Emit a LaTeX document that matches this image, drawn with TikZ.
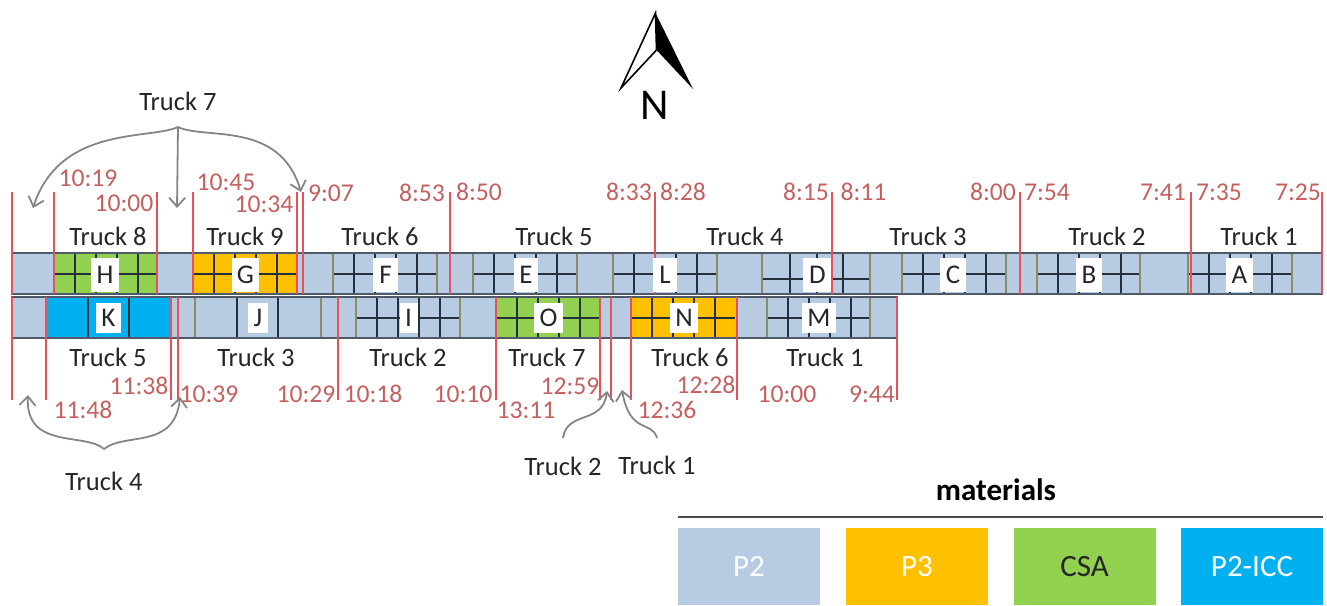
\documentclass[tikz,border=0pt]{standalone}
\usepackage{fontspec}
\setmainfont{Carlito}
\usepackage{xcolor}
\usetikzlibrary{arrows.meta, positioning, calc}
\definecolor{pblue}{HTML}{B7CBE3}
\definecolor{pyellow}{HTML}{FFC000}
\definecolor{pgreen}{HTML}{92D050}
\definecolor{pcyan}{HTML}{00B0F0}
\definecolor{redline}{HTML}{E8505C}
\definecolor{timered}{HTML}{C4605F}
\definecolor{bandline}{HTML}{4E5A68}
\definecolor{gridline}{HTML}{26303C}
\definecolor{oliveline}{HTML}{8E8C62}
\definecolor{arrowgrey}{HTML}{858585}

\begin{document}
\begin{tikzpicture}[x=1pt, y=-1pt,
		truck/.style={font=\fontsize{26.5}{28}\selectfont, text=black!85, inner sep=0pt},
		timelabel/.style={font=\fontsize{25.6}{27}\selectfont, text=timered, inner sep=0pt},
		lotlabel/.style={fill=white, font=\fontsize{27}{29}\selectfont, text=black!85, inner sep=0pt},
		legendbox/.style={minimum width=142pt, minimum height=77pt, inner sep=0pt, font=\fontsize{31}{33}\selectfont},
		redmark/.style={line width=1.4pt, redline},
		curved/.style={line width=1.8pt, arrowgrey, -{Straight Barb[length=9pt, width=16pt, line width=1.8pt]}}]
	\useasboundingbox (0,0) rectangle (1327,605);

	\fill[pblue] (12,253) rectangle (1322,294);
	\fill[pblue] (12,297) rectangle (897,338);
	\fill[pgreen] (54,253) rectangle (157,294);
	\fill[pyellow] (193,253) rectangle (297,294);
	\fill[pcyan] (46,297) rectangle (171,338);
	\fill[pgreen] (496,297) rectangle (600,338);
	\fill[pyellow] (631,297) rectangle (736,338);

	\foreach \xa/\yt in {54/253, 193/253, 333/253, 473/253, 613/253, 902/253, 1037/253, 1188/253, 356/297, 496/297, 631/297, 767/297} {
		\begin{scope}[shift={(\xa,\yt)}]
			\foreach \xv in {21,42,63,84}
				\draw[line width=1.3pt, gridline] (\xv,0) -- (\xv,41);
			\draw[line width=1.3pt, gridline] (0,21) -- (104,21);
		\end{scope}
	}
	\draw[line width=1.3pt, gridline] (762,279) -- (870,279);
	\foreach \xv in {790,817,843}
		\draw[line width=1.3pt, gridline] (\xv,253) -- (\xv,294);
	\foreach \xv in {88,129,237,278}
		\draw[line width=1.3pt, gridline] (\xv,297) -- (\xv,338);

	\foreach \xv in {333,437,473,577,613,717,762,870,902,1006,1037,1140,1188,1292}
		\draw[line width=2pt, oliveline] (\xv,253) -- (\xv,294);
	\foreach \xv in {171,195,321,356,460,767,870}
		\draw[line width=2pt, oliveline] (\xv,297) -- (\xv,338);

	\draw[line width=1.6pt, bandline] (12,253) rectangle (1322,294);
	\draw[line width=1.6pt, bandline] (12,297) rectangle (897,338);

	\foreach \xv in {12,54,157,193,297,303,450,655,832,1020,1191,1322}
		\draw[redmark] (\xv,192) -- (\xv,294);
	\foreach \xv in {12,46,171,178,338,496,600,611,631,737,897}
		\draw[redmark] (\xv,297) -- (\xv,400);

	\foreach \lab/\xl/\yl/\wl/\hl in {H/105/275/28/34, G/245.5/275/27/34, F/385.5/275/25/34, E/526/275/24/34, L/665/275/24/34, D/817.5/275/29/34, C/953/275/26/34, B/1089/275/26/34, A/1239.5/275/27/34, K/108.5/318/25/30, J/258/318/20/30, I/408.5/318/18/30, O/548.5/318/29/30, N/684/318/28/30, M/819/318/34/30}
		\node[lotlabel, minimum width=\wl pt, minimum height=\hl pt] (lot\lab) at (\xl,\yl) {\lab};
	\draw[redmark] (832,253) -- (832,294);

	\foreach \xl/\yl/\tl [count=\n] in {108/236/Truck 8, 245/236/Truck 9, 380/236/Truck 6, 554/236/Truck 5, 745/236/Truck 4, 928/236/Truck 3, 1107/236/Truck 2, 1259/236/Truck 1, 108/357/Truck 5, 256/357/Truck 3, 408/357/Truck 2, 547/357/Truck 7, 690/357/Truck 6, 825/357/Truck 1} 
		\node[truck] (crew\n) at (\xl,\yl) {\tl};

	\foreach \xl/\yl/\tm [count=\n] in {88/178/10:19, 124/203/10:00, 226/182/10:45, 264/204/10:34, 331/193/9:07, 422/193/8:53, 479/192/8:50, 629/192/8:33, 683/192/8:28, 806/192/8:15, 863.5/192/8:11, 993/192/8:00, 1047/192/7:54, 1163/192/7:41, 1219/192/7:35, 1298/192/7:25, 139/386/11:38, 83/410/11:48, 209/394/10:39, 306/394/10:29, 373/394/10:18, 463/394/10:10, 570/386/12:59, 526/410/13:11, 667/410/12:36, 706/385/12:28, 787/394/10:00, 872/394/9:44}
		\node[timelabel] (time\n) at (\xl,\yl) {\tm};

	\node[truck] (seven) at (178,101) {Truck 7};
	\coordinate (sevenfork) at (178,127);
	\coordinate (sevenleft) at (33,208);
	\coordinate (sevenmid) at (177,208);
	\coordinate (sevenright) at (301,192);
	\draw[curved] (sevenfork) .. controls (150,140) and (60,125) .. (sevenleft);
	\draw[curved] (sevenfork) -- (sevenmid);
	\draw[curved] (sevenfork) .. controls (205,140) and (280,120) .. (sevenright);

	\node[truck] (four) at (104,481) {Truck 4};
	\coordinate (fourfork) at (104,449);
	\coordinate (fourleft) at (28,395);
	\coordinate (fourright) at (180,397);
	\draw[curved] (fourfork) .. controls (85,432) and (25,450) .. (fourleft);
	\draw[curved] (fourfork) .. controls (125,432) and (175,450) .. (fourright);

	\node[truck] (two) at (563,466) {Truck 2};
	\node[truck] (one) at (657,465) {Truck 1};
	\coordinate (twostart) at (563,438);
	\coordinate (twotip) at (607,391);
	\coordinate (onestart) at (657,438);
	\coordinate (onetip) at (622,390);
	\draw[curved] (twostart) .. controls (567,410) and (603,425) .. (twotip);
	\draw[curved] (onestart) .. controls (652,420) and (630,435) .. (onetip);

	\coordinate (tip) at (655.5,13);
	\coordinate (notch) at (656.5,50);
	\coordinate (leftfoot) at (621,88);
	\coordinate (rightfoot) at (693,89);
	\fill[black] (tip) -- (rightfoot) -- (notch) -- cycle;
	\draw[line width=1.6pt, black, line join=miter] (tip) -- (leftfoot) -- (notch) -- cycle;
	\node[font=\fontsize{44}{46}\selectfont, inner sep=0pt] (north) at (655,105) {N};

	\node[font=\fontsize{31}{33}\selectfont\bfseries, inner sep=0pt] (materials) at (996,490) {materials};
	\coordinate (ruleleft) at (678,517);
	\coordinate (ruleright) at (1323,517);
	\draw[line width=1.2pt, black!70] (ruleleft) -- (ruleright);
	\node[legendbox, fill=pblue, text=white] (legendptwo) at (749,566.5) {P2};
	\node[legendbox, fill=pyellow, text=white] (legendpthree) at (917,566.5) {P3};
	\node[legendbox, fill=pgreen, text=black!85] (legendcsa) at (1084.5,566.5) {CSA};
	\node[legendbox, fill=pcyan, text=white] (legendicc) at (1252,566.5) {P2-ICC};
\end{tikzpicture}
\end{document}
